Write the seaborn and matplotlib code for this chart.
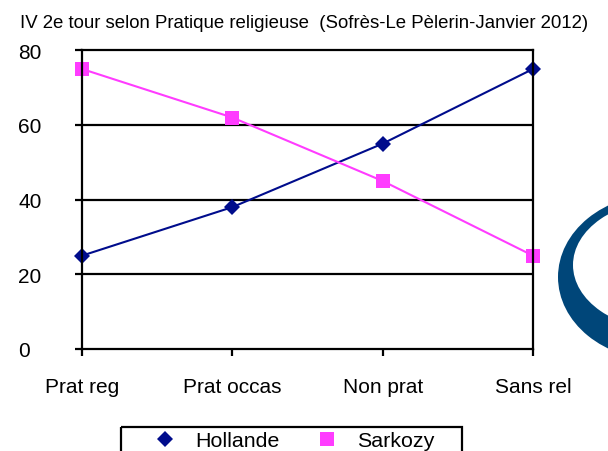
import matplotlib
matplotlib.use("Agg")
import matplotlib.pyplot as plt
import seaborn as sns
import pandas as pd
from matplotlib.patches import Ellipse, Rectangle
from matplotlib.lines import Line2D

categories = ["Prat reg", "Prat occas", "Non prat", "Sans rel"]
hollande = [25, 38, 55, 75]
sarkozy = [75, 62, 45, 25]
series_names = ["Hollande", "Sarkozy"]
y_ticks = [0, 20, 40, 60, 80]
title = "IV 2e tour selon Pratique religieuse  (Sofrès-Le Pèlerin-Janvier 2012)"

sns.set_theme(style="white")
plt.rcParams["font.family"] = ["Liberation Sans", "DejaVu Sans"]
plt.rcParams["text.color"] = "black"

df = pd.DataFrame({
    "cat": categories * 2,
    "pos": list(range(len(categories))) * 2,
    "val": hollande + sarkozy,
    "who": [series_names[0]] * 4 + [series_names[1]] * 4,
})

W, H = 608, 452
fig = plt.figure(figsize=(W / 100, H / 100), dpi=100)

# decorative logo arc and legend frame (background, pixel coordinates)
bg = fig.add_axes([0, 0, 1, 1], zorder=0)
bg.set_xlim(0, W)
bg.set_ylim(H, 0)
bg.axis("off")
bg.add_patch(Ellipse((660, 278), 204, 166, color="#004679", lw=0))
bg.add_patch(Ellipse((667, 266), 188, 130, color="white", lw=0))
bg.add_patch(Rectangle((121, 428), 341, 40, fill=False, ec="black", lw=1.6, clip_on=False))

ax = fig.add_axes([82 / W, 1 - 350 / H, (533 - 82) / W, (350 - 51.3) / H], zorder=1)
ax.patch.set_alpha(0)

palette = {"Hollande": "#000C8C", "Sarkozy": "#FF3CFF"}
marker_map = {"Hollande": "D", "Sarkozy": "s"}
sizes = [8.5, 9.75]
sns.lineplot(data=df, x="pos", y="val", hue="who", style="who",
             markers=marker_map, dashes=False,
             palette=palette, ax=ax, lw=1.5,
             markeredgewidth=0, legend=False)
for line, ms in zip(ax.lines, sizes):
    line.set_markersize(ms)
    line.set_clip_on(False)

ax.set_xlim(0, 3)
ax.set_ylim(0, 80)
ax.set_yticks(y_ticks)
ax.set_xticks(range(len(categories)))
ax.set_xticklabels(categories)
ax.set_xlabel("")
ax.set_ylabel("")
for y in y_ticks[1:-1]:
    ax.axhline(y, color="black", lw=1.6, zorder=0.5)
for s in ax.spines.values():
    s.set_visible(True)
    s.set_color("black")
    s.set_linewidth(1.6)

ax.tick_params(axis="both", which="both", direction="out", length=5, width=1.6,
               color="black", labelsize=15, labelcolor="black")
ax.tick_params(axis="x", pad=15, bottom=True)
ax.tick_params(axis="y", pad=41, left=True)
for lbl in ax.get_yticklabels():
    lbl.set_horizontalalignment("left")

fig.text(20 / W, 1 - 23 / H, title, fontsize=13.4, ha="left", va="center", color="black")

handles = [Line2D([], [], color=palette[n], marker=marker_map[n], ls="none",
                  markersize=ms, markeredgewidth=0)
           for n, ms in zip(series_names, sizes)]
leg = fig.legend(handles, series_names, loc="upper left",
                 bbox_to_anchor=(144 / W, 1 - 432 / H),
                 ncol=2, frameon=False, fontsize=15.4, handlelength=2.0,
                 columnspacing=1.2, borderpad=0, handletextpad=0.4, borderaxespad=0,
                 labelcolor="black")

fig.savefig("out.png", dpi=100, facecolor="white")
